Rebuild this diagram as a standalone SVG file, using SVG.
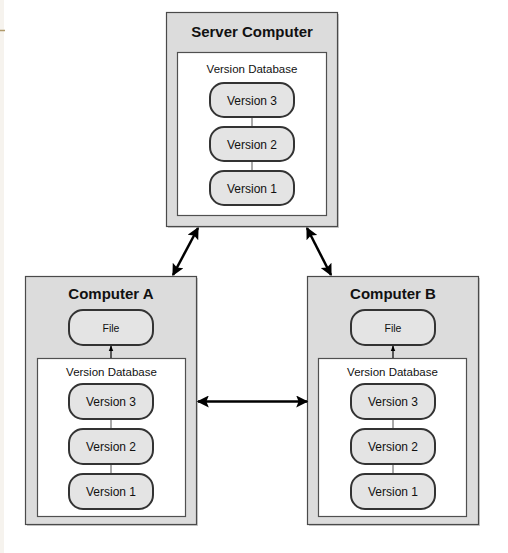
<svg xmlns="http://www.w3.org/2000/svg" width="508" height="553" viewBox="0 0 508 553">
<style>
.bg{fill:#ffffff}
.outer{fill:#dcdcdc;stroke:#4a4a4a;stroke-width:1.2}
.shadow{fill:#cccccc}
.inner{fill:#ffffff;stroke:#505050;stroke-width:1.2}
.pill{fill:#e4e4e4;stroke:#333333;stroke-width:2}
.title{font-family:"Liberation Sans",Arial,sans-serif;font-weight:bold;font-size:15px;fill:#111;text-anchor:middle}
.db{font-family:"Liberation Sans",Arial,sans-serif;font-size:11.5px;fill:#111;text-anchor:middle}
.lbl{font-family:"Liberation Sans",Arial,sans-serif;font-size:12px;fill:#111;text-anchor:middle}
.small{font-family:"Liberation Sans",Arial,sans-serif;font-size:10.5px;fill:#111;text-anchor:middle}
.link{stroke:#555;stroke-width:1;fill:none}
.arrow{stroke:#000;stroke-width:2.5;fill:none}
.thin{stroke:#000;stroke-width:1.2;fill:none}
</style>
<defs>
<marker id="ah" viewBox="0 0 10 10" refX="9" refY="5" markerWidth="6" markerHeight="4.8" orient="auto-start-reverse" markerUnits="strokeWidth">
<path d="M0,0 L10,5 L0,10 L2,5 Z" fill="#000"/>
</marker>
<marker id="ahs" viewBox="0 0 10 10" refX="9" refY="5" markerWidth="5" markerHeight="5" orient="auto" markerUnits="strokeWidth">
<path d="M0,1 L10,5 L0,9 Z" fill="#000"/>
</marker>
</defs>
<rect class="bg" x="0" y="0" width="508" height="553"/>
<rect x="0" y="0" width="4" height="553" fill="#f6f3ee"/>
<line x1="0" y1="30.5" x2="5" y2="30.5" stroke="#b09a6a" stroke-width="1.5"/>

<g id="server">
<rect class="shadow" x="168" y="14" width="171" height="214"/>
<rect class="outer" x="166.5" y="12.5" width="171" height="214"/>
<text class="title" x="252" y="37">Server Computer</text>
<rect class="inner" x="177.5" y="52.5" width="149" height="163"/>
<text class="db" x="252" y="73">Version Database</text>
<line class="link" x1="252" y1="117" x2="252" y2="127"/>
<line class="link" x1="252" y1="161" x2="252" y2="171"/>
<g id="server-v3"><rect class="pill" x="210" y="83" width="84" height="34" rx="14" ry="14"/><text class="lbl" x="252" y="105">Version 3</text></g>
<g id="server-v2"><rect class="pill" x="210" y="127" width="84" height="34" rx="14" ry="14"/><text class="lbl" x="252" y="149">Version 2</text></g>
<g id="server-v1"><rect class="pill" x="210" y="171" width="84" height="34" rx="14" ry="14"/><text class="lbl" x="252" y="193">Version 1</text></g>
</g>

<g id="computerA">
<rect class="shadow" x="27" y="278" width="171" height="248"/>
<rect class="outer" x="25.5" y="276.5" width="171" height="248"/>
<text class="title" x="111" y="299">Computer A</text>
<g id="fileA"><rect class="pill" x="69" y="310" width="84" height="35" rx="14" ry="14"/><text class="small" x="111" y="332">File</text></g>
<rect class="inner" x="37.5" y="358.5" width="148" height="158"/>
<text class="db" x="111.5" y="376">Version Database</text>
<line class="link" x1="111" y1="419" x2="111" y2="429"/>
<line class="link" x1="111" y1="464" x2="111" y2="474"/>
<g id="A-v3"><rect class="pill" x="69" y="384" width="84" height="35" rx="14" ry="14"/><text class="lbl" x="111" y="406">Version 3</text></g>
<g id="A-v2"><rect class="pill" x="69" y="429" width="84" height="35" rx="14" ry="14"/><text class="lbl" x="111" y="451">Version 2</text></g>
<g id="A-v1"><rect class="pill" x="69" y="474" width="84" height="35" rx="14" ry="14"/><text class="lbl" x="111" y="496">Version 1</text></g>
</g>

<g id="computerB">
<rect class="shadow" x="309" y="278" width="171" height="248"/>
<rect class="outer" x="307.5" y="276.5" width="171" height="248"/>
<text class="title" x="393" y="299">Computer B</text>
<g id="fileB"><rect class="pill" x="351" y="310" width="84" height="35" rx="14" ry="14"/><text class="small" x="393" y="332">File</text></g>
<rect class="inner" x="318.5" y="358.5" width="148" height="158"/>
<text class="db" x="392.5" y="376">Version Database</text>
<line class="link" x1="393" y1="419" x2="393" y2="429"/>
<line class="link" x1="393" y1="464" x2="393" y2="474"/>
<g id="B-v3"><rect class="pill" x="351" y="384" width="84" height="35" rx="14" ry="14"/><text class="lbl" x="393" y="406">Version 3</text></g>
<g id="B-v2"><rect class="pill" x="351" y="429" width="84" height="35" rx="14" ry="14"/><text class="lbl" x="393" y="451">Version 2</text></g>
<g id="B-v1"><rect class="pill" x="351" y="474" width="84" height="35" rx="14" ry="14"/><text class="lbl" x="393" y="496">Version 1</text></g>
</g>

<g id="connectors">
<line class="arrow" x1="198" y1="228" x2="173" y2="275" marker-start="url(#ah)" marker-end="url(#ah)"/>
<line class="arrow" x1="307" y1="228" x2="331" y2="275" marker-start="url(#ah)" marker-end="url(#ah)"/>
<line class="arrow" x1="198" y1="401.5" x2="307" y2="401.5" marker-start="url(#ah)" marker-end="url(#ah)"/>
<line class="thin" x1="111" y1="358" x2="111" y2="346" marker-end="url(#ahs)"/>
<line class="thin" x1="393" y1="358" x2="393" y2="346" marker-end="url(#ahs)"/>
</g>
</svg>
